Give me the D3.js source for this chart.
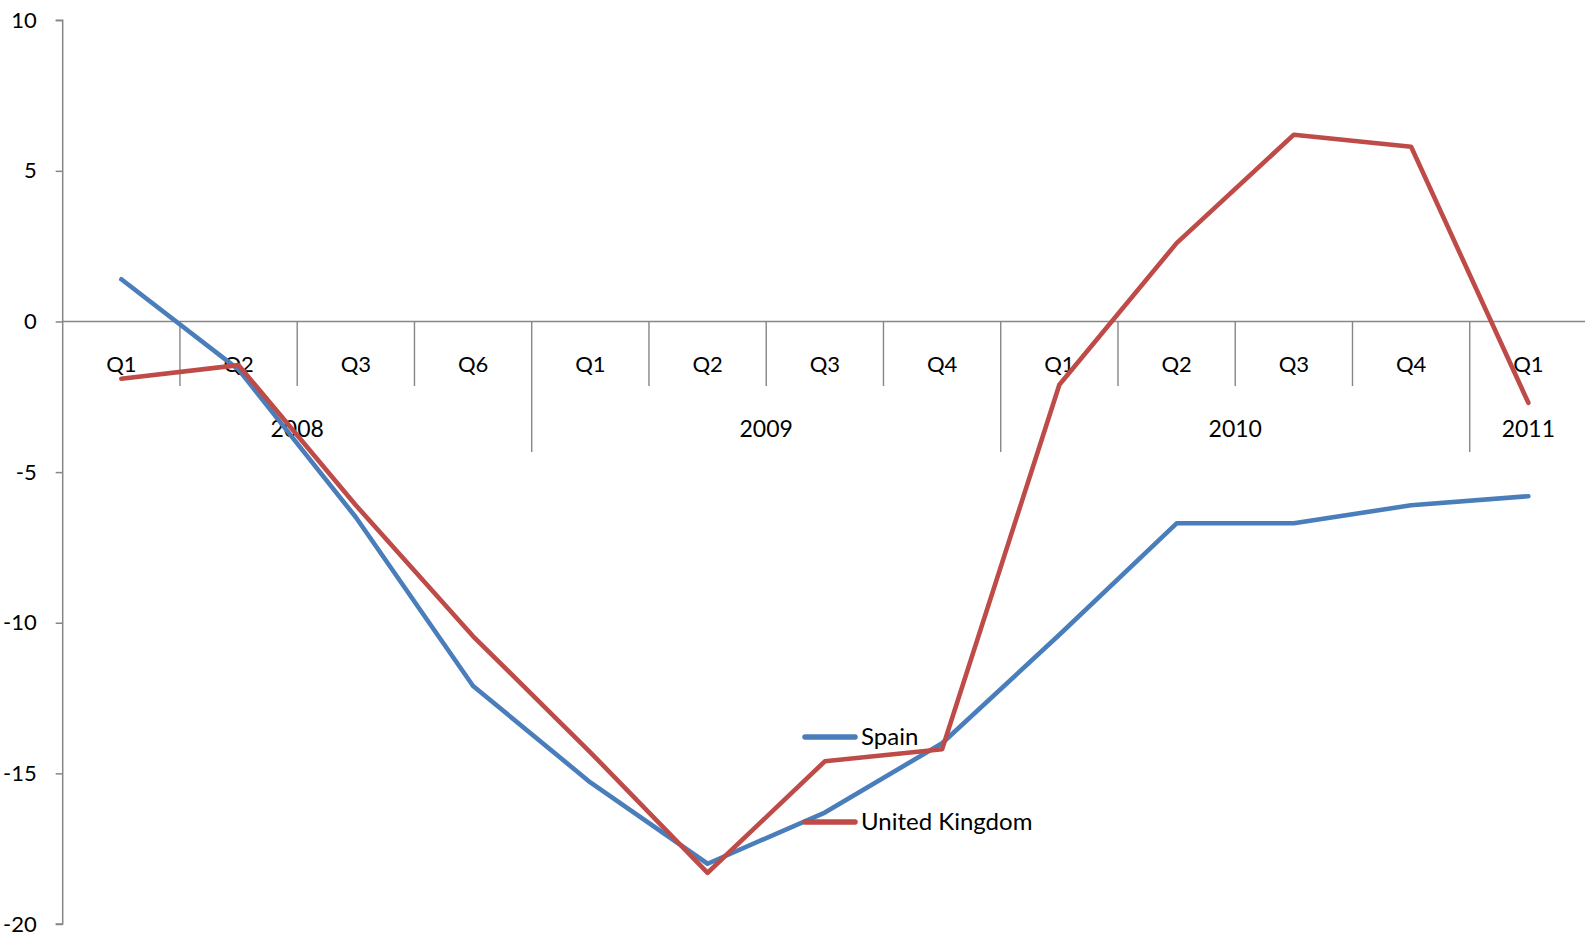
<!DOCTYPE html>
<html><head><meta charset="utf-8">
<script src="https://cdn.jsdelivr.net/npm/d3@7"></script>
<style>
html,body{margin:0;padding:0;background:#fff;}
svg{display:block;}
text{font-family:Lato,"Open Sans",sans-serif;fill:#000;}
</style></head>
<body>
<svg id="chart" width="1585" height="947"></svg>
<script>
const quarters = ["Q1","Q2","Q3","Q6","Q1","Q2","Q3","Q4","Q1","Q2","Q3","Q4","Q1"];
const years = ["2008","2009","2010","2011"];
const yearSpans = [4,4,4,1];
const spain = [1.4,-1.6,-6.5,-12.1,-15.3,-18.0,-16.3,-14.0,-10.4,-6.7,-6.7,-6.1,-5.8];
const uk = [-1.9,-1.45,-6.1,-10.45,-14.3,-18.3,-14.6,-14.2,-2.1,2.6,6.2,5.8,-2.7];
const yTicks = [10,5,0,-5,-10,-15,-20];
const seriesNames = ["Spain","United Kingdom"];
const colors = ["#4A7EBB","#BE4B48"];

(function(){
const svg = d3.select("#chart");
const mLeft = 62.7, mRight = 1587, mTop = 20.2, mBottom = 924;
const x = d3.scaleBand().domain(d3.range(quarters.length)).range([mLeft, mRight]).paddingInner(0).paddingOuter(0);
const y = d3.scaleLinear().domain([-20,10]).range([mBottom, mTop]);
const axisColor = "#868686";
const fs = 22;

// y axis
const yAxis = svg.append("g").attr("transform", `translate(${mLeft},0)`)
  .call(d3.axisLeft(y).tickValues(yTicks).tickSize(7).tickPadding(19).tickFormat(d => String(d)));
yAxis.selectAll("path").attr("stroke", axisColor).attr("stroke-width",1.5);
yAxis.selectAll("line").attr("stroke", axisColor).attr("stroke-width",1.5);
yAxis.selectAll("text").attr("font-size", fs).attr("font-family","Lato").attr("fill","#000");
yAxis.select(".domain").attr("d", `M-7,${mTop}H0V${mBottom}H-7`);

// category axis at zero
const y0 = y(0);
const g = svg.append("g");
g.append("line").attr("x1", mLeft).attr("x2", mRight).attr("y1", y0).attr("y2", y0)
  .attr("stroke", axisColor).attr("stroke-width", 1.6);

// separators
const yearBoundaries = [];
let acc = 0;
yearSpans.forEach(s => { acc += s; yearBoundaries.push(acc); });
for (let i = 1; i < quarters.length; i++) {
  const isYear = yearBoundaries.includes(i);
  g.append("line").attr("x1", x(i)).attr("x2", x(i))
    .attr("y1", y0).attr("y2", isYear ? 452 : 386)
    .attr("stroke", axisColor).attr("stroke-width", 1.4);
}

// quarter labels
g.selectAll("text.q").data(quarters).enter().append("text")
  .attr("class","q")
  .attr("x", (d,i) => x(i) + x.bandwidth()/2)
  .attr("y", 364).attr("dy","0.35em")
  .attr("text-anchor","middle").attr("font-size", fs).text(d => d);

// year labels
let start = 0;
years.forEach((yr, k) => {
  const s = yearSpans[k];
  const cx = (x(start) + x(start + s - 1) + x.bandwidth()) / 2;
  g.append("text").attr("x", cx).attr("y", 429).attr("dy","0.35em")
    .attr("text-anchor","middle").attr("font-size", 23).text(yr);
  start += s;
});

// lines
const line = d3.line().x((d,i) => x(i) + x.bandwidth()/2).y(d => y(d));
[spain, uk].forEach((data, k) => {
  svg.append("path").datum(data).attr("d", line)
    .attr("fill","none").attr("stroke", colors[k]).attr("stroke-width", 4.6)
    .attr("stroke-linejoin","round").attr("stroke-linecap","round");
});

// legend
const legendY = [737, 822];
seriesNames.forEach((name, k) => {
  svg.append("line").attr("x1", 805).attr("x2", 855).attr("y1", legendY[k]).attr("y2", legendY[k])
    .attr("stroke", colors[k]).attr("stroke-width", 5.5).attr("stroke-linecap","round");
  svg.append("text").attr("x", 861).attr("y", legendY[k]).attr("dy","0.35em")
    .attr("font-size", 24).text(name);
});
})();
</script>
</body></html>
